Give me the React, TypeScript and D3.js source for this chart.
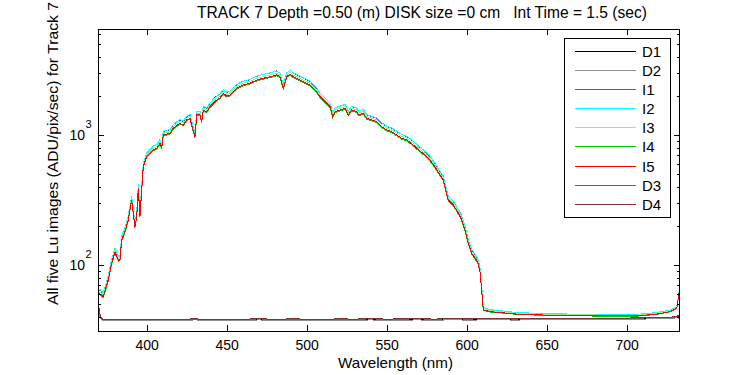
import React, { useEffect, useRef } from 'react';
import * as d3 from 'd3';

// wavelength grid (nm) shared by the five Lu images
const wavelengths = [
  369.6, 370.8, 372.9, 376.0, 378.1, 380.2, 382.3, 383.3, 384.4, 386.4,
  388.5, 390.6, 392.7, 393.8, 394.8, 395.8, 396.9, 397.9, 400.0, 402.1,
  404.1, 406.3, 408.3, 409.4, 410.4, 414.6, 416.6, 420.8, 422.9, 425.0,
  427.1, 428.1, 430.2, 431.3, 433.3, 434.4, 435.4, 437.5, 439.6, 441.6,
  443.8, 445.8, 447.9, 450.0, 452.1, 456.3, 460.4, 464.6, 468.8, 472.9,
  477.1, 481.3, 483.3, 485.4, 487.5, 489.6, 491.6, 493.8, 497.9, 502.1,
  504.1, 506.3, 508.3, 510.4, 512.5, 514.6, 516.3, 517.7, 520.8, 524.0,
  526.0, 528.1, 531.3, 532.3, 535.4, 537.5, 540.6, 543.8, 546.9, 550.0,
  553.1, 556.3, 559.4, 562.5, 566.6, 568.8, 573.9, 577.0, 580.2, 583.3,
  585.4, 588.5, 591.6, 594.8, 596.9, 598.9, 601.0, 603.1, 605.2, 607.3,
  608.3, 609.4, 610.0, 610.4, 614.6, 620.8, 631.3, 645.8, 666.7, 687.5,
  706.3, 718.8, 727.1, 731.3, 732.7, 733.3,
];

const i1 = [
  63, 64, 60, 81, 109, 133, 116, 116, 165, 191,
  236, 334, 209, 250, 411, 250, 400, 605, 722, 770,
  815, 840, 918, 842, 1062, 1096, 1198, 1310, 1270, 1388,
  1430, 1270, 1030, 1520, 1530, 1348, 1660, 1610, 1760, 1880,
  1995, 2055, 2235, 2125, 2180, 2440, 2590, 2665, 2830, 2930,
  3010, 3110, 2995, 2440, 2998, 3160, 2995, 2910, 2740, 2590,
  2440, 2296, 2100, 1980, 1870, 1760, 1475, 1610, 1660, 1710,
  1518, 1660, 1610, 1520, 1565, 1430, 1390, 1348, 1235, 1165,
  1128, 1065, 1005, 975, 893, 842, 746, 684, 605, 523,
  480, 336, 308, 266, 236, 198, 156, 131, 120, 109,
  94, 68, 53.5, 46.8, 45, 44.2, 42.8, 42.1, 41.6, 41.4,
  41.4, 42.8, 44.8, 47.6, 61.5, 73.5,
];

const i2 = [
  64, 65, 61, 82, 110, 135, 117, 117, 167, 193,
  238, 338, 211, 253, 416, 253, 404, 611, 729, 774,
  821, 846, 923, 846, 1070, 1102, 1205, 1316, 1278, 1395,
  1437, 1278, 1038, 1525, 1525, 1355, 1666, 1616, 1768, 1877,
  1988, 2062, 2240, 2135, 2174, 2447, 2597, 2675, 2836, 2921,
  3005, 3099, 3005, 2447, 3005, 3152, 3005, 2921, 2751, 2597,
  2447, 2304, 2110, 1988, 1877, 1768, 1480, 1616, 1666, 1716,
  1525, 1666, 1616, 1525, 1572, 1437, 1395, 1355, 1240, 1170,
  1134, 1070, 1009, 979, 897, 846, 750, 687, 608, 526,
  483, 338, 310, 268, 238, 199, 157, 132, 121, 110,
  95, 69, 54, 47, 45.3, 44.4, 43, 42.3, 41.8, 41.6,
  41.6, 43, 45, 47.8, 62, 74,
];

const i3 = [
  61, 62, 59, 79, 106, 130, 112, 112, 161, 185,
  229, 325, 203, 243, 401, 243, 389, 588, 701, 745,
  790, 815, 889, 815, 1030, 1061, 1160, 1267, 1230, 1343,
  1383, 1230, 999, 1468, 1468, 1304, 1604, 1555, 1702, 1807,
  1914, 1985, 2156, 2055, 2093, 2356, 2500, 2575, 2730, 2812,
  2892, 2983, 2892, 2356, 2892, 3034, 2892, 2812, 2648, 2500,
  2356, 2218, 2031, 1914, 1807, 1702, 1424, 1555, 1604, 1652,
  1468, 1604, 1555, 1468, 1513, 1383, 1343, 1304, 1194, 1126,
  1092, 1030, 971, 942, 863, 815, 722, 661, 585, 507,
  465, 325, 299, 258, 229, 192, 151, 127, 116, 106,
  92, 66, 52, 46.2, 44.5, 43.7, 42.4, 41.8, 41.3, 41.1,
  41.1, 42.4, 44.3, 47.1, 61.5, 73.5,
];

const i4 = [
  58, 59, 56, 75, 101, 124, 107, 108, 153, 177,
  219, 311, 194, 233, 383, 233, 372, 562, 671, 712,
  756, 779, 850, 779, 985, 1015, 1109, 1212, 1176, 1285,
  1323, 1176, 956, 1404, 1404, 1247, 1534, 1487, 1627, 1728,
  1830, 1898, 2062, 1965, 2001, 2253, 2391, 2463, 2610, 2689,
  2766, 2853, 2766, 2253, 2766, 2902, 2766, 2689, 2532, 2391,
  2253, 2121, 1942, 1830, 1728, 1627, 1362, 1487, 1534, 1580,
  1404, 1534, 1487, 1404, 1447, 1323, 1285, 1247, 1142, 1077,
  1044, 985, 929, 901, 825, 779, 690, 632, 559, 485,
  444, 311, 286, 246, 219, 183, 145, 121, 111, 101,
  88, 63, 50, 44.6, 43.4, 42.8, 41.6, 41, 40.6, 40.3,
  40.3, 41.6, 43.5, 46.3, 60.5, 72.5,
];

const i5 = [
  59, 60, 57, 77, 103, 126, 109, 109, 156, 180,
  222, 316, 197, 236, 389, 236, 378, 571, 681, 723,
  767, 791, 863, 791, 1000, 1030, 1126, 1230, 1194, 1304,
  1343, 1194, 970, 1425, 1425, 1266, 1557, 1510, 1652, 1754,
  1858, 1927, 2093, 1995, 2032, 2287, 2427, 2500, 2650, 2730,
  2808, 2896, 2808, 2287, 2808, 2946, 2808, 2730, 2571, 2427,
  2287, 2153, 1972, 1858, 1754, 1652, 1383, 1510, 1557, 1604,
  1425, 1557, 1510, 1425, 1469, 1343, 1304, 1266, 1159, 1093,
  1060, 1000, 943, 915, 838, 791, 701, 642, 568, 492,
  451, 316, 290, 250, 222, 186, 147, 123, 113, 103,
  89, 64, 51, 45, 43.7, 43, 41.8, 41.2, 40.7, 40.5,
  40.5, 41.8, 43.7, 46.5, 61, 73,
];

// dark frames
const darkWavelengths = [
  369.6, 370.3, 371.2, 372.5,
  380, 390, 400, 410, 420, 430, 440, 450, 460, 470,
  480, 490, 500, 510, 520, 530, 540, 550, 560, 570,
  580, 590, 600, 610, 620, 630, 640, 650, 660, 670,
  680, 690, 700, 710, 720, 730,
  732.5, 733.3,
];

const d1 = [
  47, 44, 39, 37.6,
  37.8, 37.6, 37.9, 37.7, 37.8, 38.0, 37.7, 37.9, 37.8, 38.1,
  37.8, 38.0, 37.9, 37.8, 38.0, 37.9, 38.1, 37.9, 38.0, 38.1,
  37.9, 38.2, 38.0, 38.1, 38.2, 38.0, 38.2, 38.3, 38.1, 38.3,
  38.4, 38.3, 38.6, 38.7, 38.9, 39.4,
  40.2, 35,
];
const d2 = [
  45, 42, 38.5, 37.4,
  37.5, 37.4, 37.6, 37.5, 37.4, 37.7, 37.5, 37.6, 37.4, 37.7,
  37.5, 37.6, 37.5, 37.4, 37.6, 37.5, 37.7, 37.5, 37.6, 37.7,
  37.5, 37.8, 37.6, 37.7, 37.8, 37.6, 37.8, 37.9, 37.7, 37.9,
  38.0, 37.9, 38.2, 38.3, 38.5, 39.0,
  39.8, 34.5,
];
const d3v = [
  48, 45, 39.5, 37.9,
  38.1, 37.9, 38.2, 38.0, 38.1, 38.3, 38.0, 38.2, 38.1, 38.4,
  38.1, 38.3, 38.2, 38.1, 38.3, 38.2, 38.4, 38.2, 38.3, 38.4,
  38.2, 38.5, 38.3, 38.4, 38.5, 38.3, 38.5, 38.6, 38.4, 38.6,
  38.7, 38.6, 38.9, 39.0, 39.2, 39.7,
  40.5, 35.5,
];
const d4 = [
  49, 46, 40, 38.0,
  38.2, 38.0, 38.3, 38.1, 38.2, 38.4, 38.1, 38.3, 38.2, 38.5,
  38.2, 38.4, 38.3, 38.2, 38.4, 38.3, 38.5, 38.3, 38.4, 38.5,
  38.3, 38.6, 38.4, 38.5, 38.6, 38.4, 38.6, 38.7, 38.5, 38.7,
  38.8, 38.7, 39.0, 39.1, 39.3, 39.8,
  40.7, 36,
];

const seriesNames = ['D1', 'D2', 'I1', 'I2', 'I3', 'I4', 'I5', 'D3', 'D4'];
const seriesColors = ['#000000', '#8f8f8f', '#1f6fd8', '#00ffff', '#90ee90', '#00c800', '#ff0000', '#7b5a5a', '#7f3535'];

const xTicks = [400, 450, 500, 550, 600, 650, 700];
const yMajor = [100, 1000];
const yMinor = [40, 50, 60, 70, 80, 90, 200, 300, 400, 500, 600, 700, 800, 900, 2000, 3000, 4000, 5000, 6000];

const title = 'TRACK 7 Depth =0.50 (m) DISK size =0 cm   Int Time = 1.5 (sec)';
const xLabel = 'Wavelength (nm)';
const yLabel = 'All five Lu images (ADU/pix/sec) for Track 7';

const FONT = '"Liberation Sans", Arial, Helvetica, sans-serif';

const App: React.FC = () => {
  const svgRef = useRef<SVGSVGElement>(null);

  useEffect(() => {
    if (!svgRef.current) return;
    const svg = d3.select(svgRef.current);
    svg.selectAll('*').remove();

    const left = 98, right = 680, top = 29, bottom = 331;

    const x = d3.scaleLinear().domain([369.6, 733.3]).range([left, right]);
    const y = d3.scaleLog().domain([31, 6540]).range([bottom, top]);

    svg.append('rect').attr('width', 750).attr('height', 375).attr('fill', '#ffffff');

    svg.append('defs').append('clipPath').attr('id', 'plot-clip')
      .append('rect').attr('x', left).attr('y', top).attr('width', right - left).attr('height', bottom - top);

    const series = seriesNames.map((name, i) => {
      const dark = name.startsWith('D');
      const ys = [d1, d2, i1, i2, i3, i4, i5, d3v, d4][i];
      const xs = dark ? darkWavelengths : wavelengths;
      return { name, color: seriesColors[i], points: xs.map((w, k) => [w, ys[k]] as [number, number]) };
    });

    const line = d3.line<[number, number]>().x(d => x(d[0])).y(d => y(d[1]));

    const plot = svg.append('g').attr('clip-path', 'url(#plot-clip)');
    series.forEach(s => {
      plot.append('path')
        .attr('d', line(s.points))
        .attr('fill', 'none')
        .attr('stroke', s.color)
        .attr('stroke-width', 1)
        .attr('shape-rendering', 'crispEdges');
    });

    // axes, ticks pointing inward on all four sides
    const styleAxis = (g: d3.Selection<SVGGElement, unknown, null, undefined>) => {
      g.select('.domain').remove();
      g.selectAll('line').attr('stroke', '#000').attr('shape-rendering', 'crispEdges');
    };

    svg.append('g').attr('transform', `translate(0,${bottom})`)
      .call(d3.axisBottom(x).tickValues(xTicks).tickSize(-6).tickPadding(9).tickFormat(d3.format('d')))
      .call(styleAxis)
      .call(g => g.selectAll('text').attr('font-family', FONT).attr('font-size', 14).attr('fill', '#000'));

    svg.append('g').attr('transform', `translate(0,${top})`)
      .call(d3.axisTop(x).tickValues(xTicks).tickSize(-6).tickFormat(() => ''))
      .call(styleAxis);

    [
      { ticks: yMajor, size: 6 },
      { ticks: yMinor, size: 3 },
    ].forEach(({ ticks, size }) => {
      svg.append('g').attr('transform', `translate(${left},0)`)
        .call(d3.axisLeft(y).tickValues(ticks).tickSize(-size).tickFormat(() => ''))
        .call(styleAxis);
      svg.append('g').attr('transform', `translate(${right},0)`)
        .call(d3.axisRight(y).tickValues(ticks).tickSize(-size).tickFormat(() => ''))
        .call(styleAxis);
    });

    svg.append('rect')
      .attr('x', left + 0.5).attr('y', top + 0.5)
      .attr('width', right - left - 1).attr('height', bottom - top)
      .attr('fill', 'none').attr('stroke', '#000').attr('stroke-width', 1);

    // y tick labels as 10^n
    yMajor.forEach(v => {
      const yy = y(v);
      svg.append('text')
        .attr('x', 85).attr('y', yy + 5)
        .attr('text-anchor', 'end')
        .attr('font-family', FONT).attr('font-size', 14)
        .text('10');
      svg.append('text')
        .attr('x', 85.5).attr('y', yy - 7)
        .attr('font-family', FONT).attr('font-size', 11)
        .text(String(Math.round(Math.log10(v))));
    });

    svg.append('text')
      .attr('x', 197).attr('y', 18)
      .attr('font-family', FONT).attr('font-size', 16)
      .attr('textLength', 450).attr('lengthAdjust', 'spacingAndGlyphs')
      .style('white-space', 'pre')
      .text(title);

    svg.append('text')
      .attr('x', 338).attr('y', 368)
      .attr('font-family', FONT).attr('font-size', 15)
      .attr('textLength', 115).attr('lengthAdjust', 'spacingAndGlyphs')
      .text(xLabel);

    svg.append('text')
      .attr('transform', 'translate(58,305) rotate(-90)')
      .attr('font-family', FONT).attr('font-size', 15)
      .attr('textLength', 303).attr('lengthAdjust', 'spacingAndGlyphs')
      .text(yLabel);

    // legend
    const legend = svg.append('g');
    legend.append('rect')
      .attr('x', 564.5).attr('y', 38.5).attr('width', 106).attr('height', 179)
      .attr('fill', '#fff').attr('stroke', '#000').attr('stroke-width', 1);
    series.forEach((s, i) => {
      const ly = Math.round(50.7 + i * 19.15) + 0.5;
      legend.append('line')
        .attr('x1', 575).attr('x2', 636).attr('y1', ly).attr('y2', ly)
        .attr('stroke', s.color).attr('stroke-width', 1);
      legend.append('text')
        .attr('x', 642).attr('y', ly + 5.5)
        .attr('font-family', FONT).attr('font-size', 15)
        .text(s.name);
    });
  }, []);

  return (
    <svg
      ref={svgRef}
      width={750}
      height={375}
      viewBox="0 0 750 375"
      style={{ position: 'absolute', left: 0, top: 0, display: 'block' }}
    />
  );
};

export default App;
